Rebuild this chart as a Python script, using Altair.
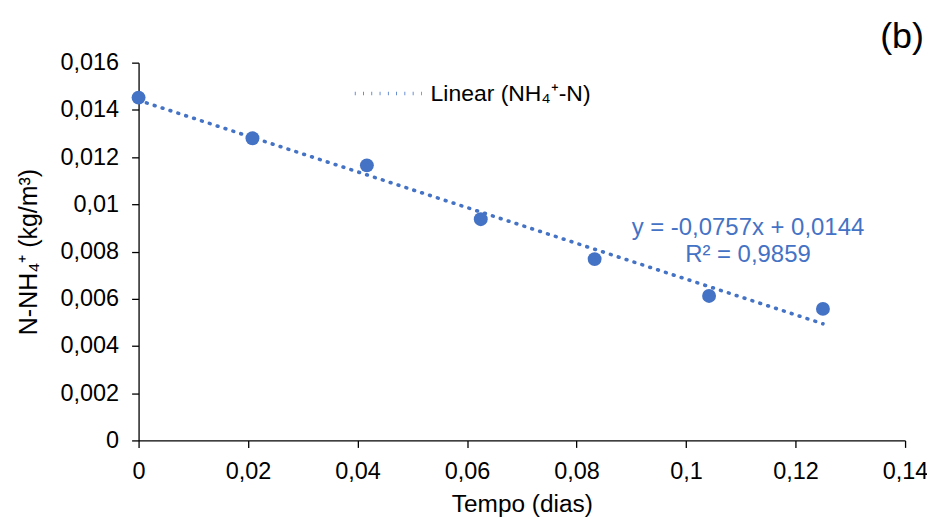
import altair as alt
import pandas as pd

# Data
tempo = [0.0, 0.0208, 0.0417, 0.0625, 0.0833, 0.1042, 0.125]
nh4 = [0.01452, 0.0128, 0.01165, 0.00937, 0.00768, 0.00612, 0.00557]
serie = "Linear (NH\u2084\u207a-N)"
eq_lines = ["y = -0,0757x + 0,0144", "R\u00b2 = 0,9859"]
eq_pos = [0.1113, 0.0090]
x_ticks = [0, 0.02, 0.04, 0.06, 0.08, 0.1, 0.12, 0.14]
y_ticks = [0, 0.002, 0.004, 0.006, 0.008, 0.01, 0.012, 0.014, 0.016]

BLUE = "#4472C4"
FONT = "Liberation Sans"
DASH = [0.8, 7.5]

df = pd.DataFrame({"x": tempo, "y": nh4})
lab = "replace(format(datum.value, '.4~f'), '.', ',')"

xs = alt.Scale(domain=[0, 0.14], nice=False)
ys = alt.Scale(domain=[0, 0.016], nice=False)

xax = alt.Axis(values=x_ticks, labelExpr=lab, labelFlush=False, labelOverlap=False,
               grid=False, domainColor="black", tickColor="black", tickSize=7,
               domainWidth=1.3, tickWidth=1.3,
               labelFont=FONT, labelFontSize=23.5, labelColor="black", labelPadding=12,
               title="Tempo (dias)", titleFont=FONT, titleFontSize=24.5,
               titleFontWeight="normal", titleColor="black", titlePadding=10)
yax = alt.Axis(values=y_ticks, labelExpr=lab, labelFlush=False, labelOverlap=False,
               grid=False, domainColor="black", tickColor="black", tickSize=7,
               domainWidth=1.3, tickWidth=1.3,
               labelFont=FONT, labelFontSize=23.5, labelColor="black", labelPadding=13,
               title="N-NH\u2084\u207a (kg/m\u00b3)", titleFont=FONT, titleFontSize=25,
               titleFontWeight="normal", titleColor="black", titlePadding=19)

base = alt.Chart(df)

trend = base.transform_regression("x", "y", extent=[0, 0.125]).mark_line(
    strokeDash=DASH, strokeWidth=3.6, strokeCap="round"
).encode(
    x=alt.X("x:Q", scale=xs, axis=xax),
    y=alt.Y("y:Q", scale=ys, axis=yax),
    color=alt.Color("s:N", scale=alt.Scale(range=[BLUE]),
                    legend=alt.Legend(title=None, orient="none", legendX=215, legendY=-4.5,
                                      symbolType="stroke", symbolSize=4500,
                                      symbolStrokeWidth=3.6, symbolDash=DASH,
                                      labelFont=FONT, labelFontSize=23, labelColor="black",
                                      labelOffset=7, labelLimit=0)),
).transform_calculate(s=f"'{serie}'")

points = base.mark_circle(size=195, opacity=1, color=BLUE).encode(
    x=alt.X("x:Q", scale=xs), y=alt.Y("y:Q", scale=ys)
)

eq = alt.Chart(pd.DataFrame({"x": [eq_pos[0]], "y": [eq_pos[1]], "t": [eq_lines]})).mark_text(
    font=FONT, fontSize=24, color=BLUE, align="center", baseline="middle", lineHeight=27
).encode(x=alt.X("x:Q", scale=xs), y=alt.Y("y:Q", scale=ys), text="t")

tag = alt.Chart(pd.DataFrame({"t": ["(b)"]})).mark_text(
    font=FONT, fontSize=36, color="black", align="center", baseline="middle"
).encode(x=alt.value(766), y=alt.value(-26), text="t")

chart = alt.layer(trend, points, eq, tag).properties(
    width=769, height=379,
    autosize=alt.AutoSizeParams(type="none"),
    padding={"left": 131, "top": 54, "right": 22, "bottom": 76},
    background="white",
).configure_view(stroke=None)

chart.save("out.html", embed_options={"renderer": "svg", "actions": False})
